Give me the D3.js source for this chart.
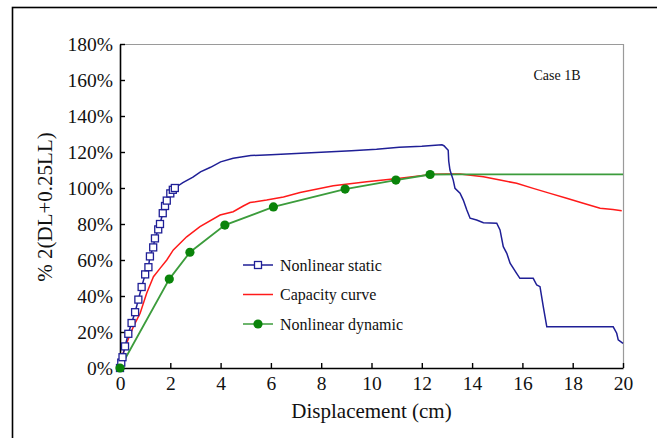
<!DOCTYPE html>
<html>
<head>
<meta charset="utf-8">
<script src="https://cdn.jsdelivr.net/npm/d3@7"></script>
<style>
  body { margin: 0; background: #fff; }
  svg text { font-family: "Liberation Serif", "DejaVu Serif", serif; }
</style>
</head>
<body>
<div class="chart"></div>
<script>
const FRAME_WIDTH = 657;
const FRAME_HEIGHT = 438;
const MARGINS = {left: 120, right: 34, top: 44, bottom: 70};
const SERIF = "'Liberation Serif', 'DejaVu Serif', serif";

// x ticks (cm) and y ticks (fraction of 2(DL+0.25LL))
const X_TICKS = [0, 2, 4, 6, 8, 10, 12, 14, 16, 18, 20];
const Y_TICKS = [0, 0.2, 0.4, 0.6, 0.8, 1.0, 1.2, 1.4, 1.6, 1.8];

// Nonlinear static: marked part (squares) then the unmarked tail
const STATIC_MARK_X = [0, 0.05, 0.1, 0.2, 0.33, 0.46, 0.6, 0.73, 0.86, 1.0, 1.13, 1.19, 1.32, 1.39, 1.52, 1.59, 1.7, 1.79, 1.86, 2.0, 2.1, 2.18];
const STATIC_MARK_Y = [0, 0.03, 0.06, 0.12, 0.19, 0.25, 0.31, 0.38, 0.45, 0.52, 0.56, 0.62, 0.67, 0.72, 0.77, 0.8, 0.86, 0.9, 0.93, 0.97, 0.99, 1.0];
const STATIC_TAIL_X = [2.5, 2.9, 3.2, 3.6, 4.0, 4.5, 5.2, 6.0, 7.2, 8.2, 9.2, 10.2, 11.1, 12.0, 12.8, 12.88, 13.05, 13.07, 13.12, 13.25, 13.32, 13.52, 13.65, 13.79, 13.92, 14.18, 14.45, 14.98, 15.11, 15.24, 15.38, 15.51, 15.77, 15.9, 16.43, 16.57, 16.7, 16.83, 16.97, 17.76, 19.61, 19.75, 19.81, 20.0];
const STATIC_TAIL_Y = [1.03, 1.06, 1.09, 1.115, 1.145, 1.165, 1.18, 1.185, 1.193, 1.2, 1.207, 1.215, 1.226, 1.232, 1.24, 1.235, 1.21, 1.15, 1.1, 1.044, 0.998, 0.971, 0.933, 0.878, 0.832, 0.822, 0.807, 0.804, 0.767, 0.674, 0.637, 0.582, 0.526, 0.498, 0.498, 0.461, 0.452, 0.341, 0.229, 0.229, 0.229, 0.193, 0.156, 0.137];

// Capacity curve
const CAP_X = [0, 0.07, 0.3, 0.53, 0.8, 1.06, 1.33, 1.6, 1.86, 2.12, 2.65, 3.18, 3.98, 4.5, 4.9, 5.17, 5.83, 6.5, 7.16, 8.48, 9.81, 11.13, 12.46, 13.0, 13.52, 14.45, 15.11, 15.77, 16.43, 17.1, 17.76, 18.42, 19.09, 19.6, 19.95];
const CAP_Y = [0, 0.063, 0.15, 0.229, 0.304, 0.415, 0.507, 0.555, 0.6, 0.656, 0.729, 0.785, 0.85, 0.868, 0.9, 0.919, 0.933, 0.95, 0.975, 1.012, 1.035, 1.054, 1.076, 1.078, 1.078, 1.063, 1.044, 1.026, 0.998, 0.97, 0.943, 0.915, 0.887, 0.88, 0.874];

// Nonlinear dynamic: marked points, then the plateau to the end
const DYN_X = [0, 1.96, 2.78, 4.17, 6.1, 8.95, 10.97, 12.33];
const DYN_Y = [0, 0.494, 0.643, 0.794, 0.895, 0.994, 1.044, 1.075];
const DYN_END_X = [13.5, 20];
const DYN_END_Y = [1.076, 1.076];

const LEGEND = ["Nonlinear static", "Capacity curve", "Nonlinear dynamic"];

const BLUE = "#1f1f96";
const RED = "#ff1a1a";
const GREEN_LINE = "#3c9c3c";
const GREEN_MARK = "#0a840a";

const PLOT_W = FRAME_WIDTH - MARGINS.left - MARGINS.right;
const PLOT_H = FRAME_HEIGHT - MARGINS.top - MARGINS.bottom;

const svg = d3.select(".chart").append("svg")
    .attr("width", FRAME_WIDTH)
    .attr("height", FRAME_HEIGHT);

// outer figure border (runs off the right and bottom)
svg.append("rect")
    .attr("x", 12.5).attr("y", 7.5)
    .attr("width", 700).attr("height", 500)
    .attr("fill", "none").attr("stroke", "#000").attr("stroke-width", 1.6);

const X_SCALE = d3.scaleLinear().domain([0, 20]).range([0, PLOT_W]);
const Y_SCALE = d3.scaleLinear().domain([0, 1.8]).range([PLOT_H, 0]);

const plot = svg.append("g")
    .attr("transform", "translate(" + MARGINS.left + "," + MARGINS.top + ")");

// gray frame on top and right
plot.append("path")
    .attr("d", "M0,0.5H" + (PLOT_W + 0.5) + "V" + PLOT_H)
    .attr("fill", "none").attr("stroke", "#9a9a9a").attr("stroke-width", 1.2);

const xAxis = plot.append("g")
    .attr("transform", "translate(0," + PLOT_H + ")")
    .call(d3.axisBottom(X_SCALE).tickValues(X_TICKS).tickSizeInner(-5).tickSizeOuter(0).tickPadding(8));

const yAxis = plot.append("g")
    .call(d3.axisLeft(Y_SCALE).tickValues(Y_TICKS).tickSizeInner(-5).tickSizeOuter(0).tickPadding(7)
        .tickFormat(d3.format(".0%")));

[xAxis, yAxis].forEach((ax) => {
    ax.attr("font-family", SERIF).attr("font-size", 19.5);
    ax.select(".domain").attr("stroke", "#000").attr("stroke-width", 1.6);
    ax.selectAll(".tick line").attr("stroke", "#000").attr("stroke-width", 1.4);
    ax.selectAll(".tick text").attr("fill", "#111");
});

const line = d3.line()
    .x((d) => X_SCALE(d[0]))
    .y((d) => Y_SCALE(d[1]));

const staticPts = d3.zip(STATIC_MARK_X.concat(STATIC_TAIL_X), STATIC_MARK_Y.concat(STATIC_TAIL_Y));
const capPts = d3.zip(CAP_X, CAP_Y);
const dynPts = d3.zip(DYN_X.concat(DYN_END_X), DYN_Y.concat(DYN_END_Y));

plot.append("path").datum(capPts)
    .attr("d", line).attr("fill", "none").attr("stroke", RED).attr("stroke-width", 1.5);

plot.append("path").datum(dynPts)
    .attr("d", line).attr("fill", "none").attr("stroke", GREEN_LINE).attr("stroke-width", 1.8);

plot.append("path").datum(staticPts)
    .attr("d", line).attr("fill", "none").attr("stroke", BLUE).attr("stroke-width", 1.5);

plot.selectAll(".static-mark")
    .data(d3.zip(STATIC_MARK_X, STATIC_MARK_Y))
    .enter()
    .append("rect")
        .attr("class", "static-mark")
        .attr("x", (d) => X_SCALE(d[0]) - 3.5)
        .attr("y", (d) => Y_SCALE(d[1]) - 3.5)
        .attr("width", 7).attr("height", 7)
        .attr("fill", "#fff").attr("stroke", BLUE).attr("stroke-width", 1.3);

plot.selectAll(".dyn-mark")
    .data(d3.zip(DYN_X, DYN_Y))
    .enter()
    .append("circle")
        .attr("class", "dyn-mark")
        .attr("cx", (d) => X_SCALE(d[0]))
        .attr("cy", (d) => Y_SCALE(d[1]))
        .attr("r", 4.6)
        .attr("fill", GREEN_MARK);

// legend
const legend = svg.append("g").attr("transform", "translate(243,265)");
const legendColors = [BLUE, RED, GREEN_LINE];
LEGEND.forEach((name, i) => {
    const g = legend.append("g").attr("transform", "translate(0," + (i * 29.5) + ")");
    g.append("line").attr("x1", 0).attr("x2", 30).attr("y1", 0).attr("y2", 0)
        .attr("stroke", legendColors[i]).attr("stroke-width", 1.5);
    if (i === 0) {
        g.append("rect").attr("x", 11.5).attr("y", -3.5).attr("width", 7).attr("height", 7)
            .attr("fill", "#fff").attr("stroke", BLUE).attr("stroke-width", 1.3);
    }
    if (i === 2) {
        g.append("circle").attr("cx", 15).attr("cy", 0).attr("r", 4.6).attr("fill", GREEN_MARK);
    }
    g.append("text").attr("x", 37).attr("y", 5.5)
        .attr("font-family", SERIF).attr("font-size", 16)
        .attr("fill", "#111").text(name);
});

svg.append("text")
    .attr("x", 557).attr("y", 80)
    .attr("text-anchor", "middle")
    .attr("font-family", SERIF).attr("font-size", 14)
    .attr("fill", "#111")
    .text("Case 1B");

svg.append("text")
    .attr("x", MARGINS.left + PLOT_W / 2).attr("y", 418)
    .attr("text-anchor", "middle")
    .attr("font-family", SERIF).attr("font-size", 21)
    .attr("fill", "#111")
    .text("Displacement (cm)");

svg.append("text")
    .attr("transform", "translate(52,207) rotate(-90)")
    .attr("text-anchor", "middle")
    .attr("font-family", SERIF).attr("font-size", 21)
    .attr("fill", "#111")
    .text("% 2(DL+0.25LL)");
</script>
</body>
</html>
